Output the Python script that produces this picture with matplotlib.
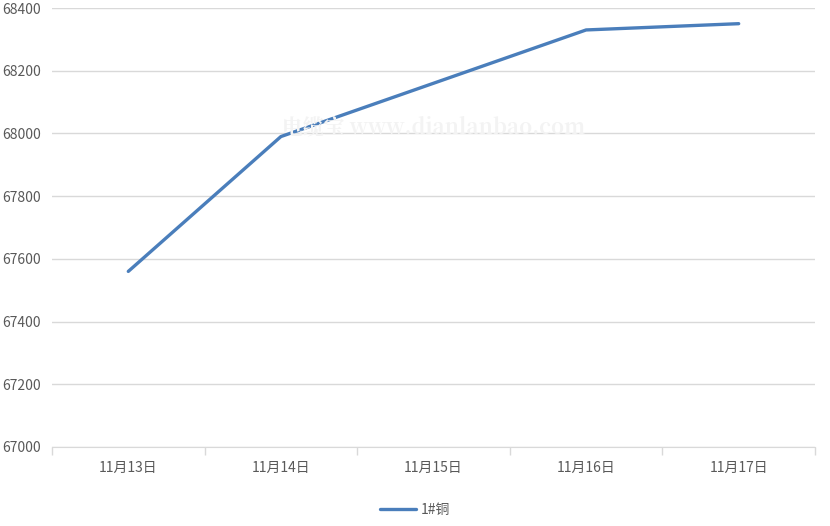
import numpy as np
import matplotlib.pyplot as plt

plt.rcParams['font.family'] = ['Noto Sans CJK SC', 'DejaVu Sans']

dates = ['11月13日', '11月14日', '11月15日', '11月16日', '11月17日']
copper = [67560, 67990, 68160, 68330, 68350]
y_ticks = [67000, 67200, 67400, 67600, 67800, 68000, 68200, 68400]

fig = plt.figure(figsize=(8.3, 5.26), dpi=100)
ax = fig.add_axes([52/830, 1-447/526, (815-52)/830, (447-8)/526])

x = np.arange(len(dates))
ax.plot(x, copper, color='#4a7ebb', lw=2.4, solid_capstyle='round',
        solid_joinstyle='round', label='1#铜', zorder=3)

ax.set_xlim(-0.5, len(dates)-0.5)
ax.set_ylim(y_ticks[0], y_ticks[-1])
ax.set_yticks(y_ticks)
ax.set_yticklabels([str(v) for v in y_ticks])
ax.grid(axis='y', color='#d9d9d9', lw=1)
ax.set_axisbelow(True)

ax.set_xticks(x)
ax.set_xticklabels(dates)
ax.set_xticks(np.arange(len(dates)+1)-0.5, minor=True)
ax.tick_params(axis='x', which='major', length=0, pad=10, labelsize=10, labelcolor='#595959')
ax.tick_params(axis='x', which='minor', length=6, color='#d9d9d9', width=1)
ax.tick_params(axis='y', length=0, pad=8, labelsize=10, labelcolor='#595959')

for s in ['top', 'right', 'left']:
    ax.spines[s].set_visible(False)
ax.spines['bottom'].set_color('#d9d9d9')

# watermark
ax.text(2.0, 68020, '电缆宝 www.dianlanbao.com', family=['Noto Serif CJK SC', 'DejaVu Serif'],
        fontweight='bold', fontsize=15, color='#f3f3f3', ha='center', va='center', zorder=4)

leg = fig.legend(loc='center', bbox_to_anchor=(0.5, 1-510/526), frameon=False,
                 fontsize=10, handlelength=2.6, handletextpad=0.3)
for t in leg.get_texts():
    t.set_color('#595959')

fig.savefig('out.png', dpi=100)
